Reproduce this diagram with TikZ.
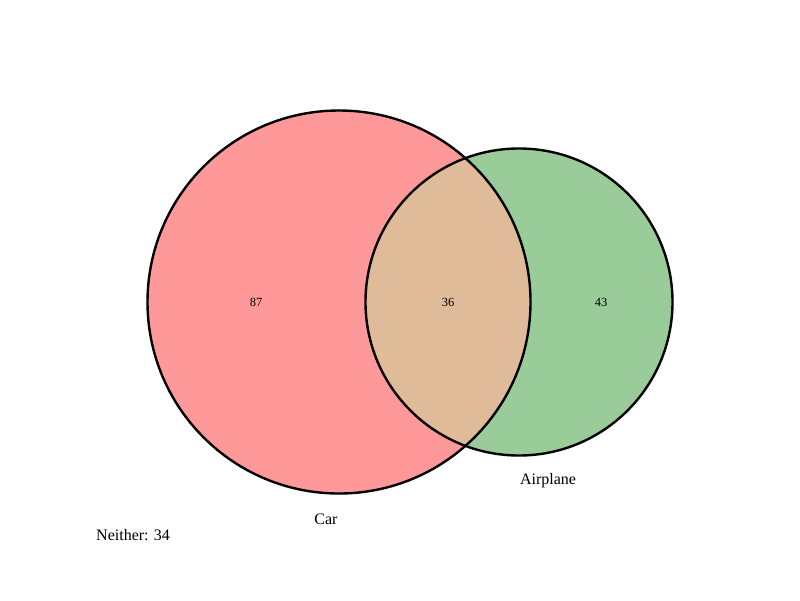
\documentclass[tikz,border=0pt]{standalone}
\usepackage{fontspec}
\setmainfont{Liberation Serif}
\usepackage{tikz}
\usetikzlibrary{positioning, calc}
\definecolor{carred}{HTML}{FF9999}
\definecolor{planegreen}{HTML}{99CC99}
\definecolor{bothtan}{HTML}{E0BB99}

\begin{document}
\begin{tikzpicture}[x=1pt, y=-1pt,
		setlabel/.style={font=\fontsize{16}{19}\selectfont},
		countlabel/.style={font=\fontsize{12.5}{15}\selectfont}]
			\useasboundingbox (0,0) rectangle (800,600);
			\coordinate (car) at (339,302);
			\coordinate (plane) at (519,302);
			
			\fill [carred] (car) circle (191.5);
			\fill [planegreen] (plane) circle (153.5);
			\begin{scope}
				\clip (car) circle (191.5);
				\fill [bothtan] (plane) circle (153.5);
			\end{scope}
			\draw [line width=2.4pt] (car) circle (191.5);
			\draw [line width=2.4pt] (plane) circle (153.5);
			
			\node[countlabel] (onlycar) at (256,302) {87};
			\node[countlabel] (both) at (448,302) {36};
			\node[countlabel] (onlyplane) at (601,302) {43};
			
			\node[setlabel] (carname) at (326,519) {Car};
			\node[setlabel] (planename) at (548,481) {Airplane};
			\node[setlabel, anchor=west, inner sep=0pt] (neither) at (96,535) {Neither: 34};
\end{tikzpicture}
\end{document}
